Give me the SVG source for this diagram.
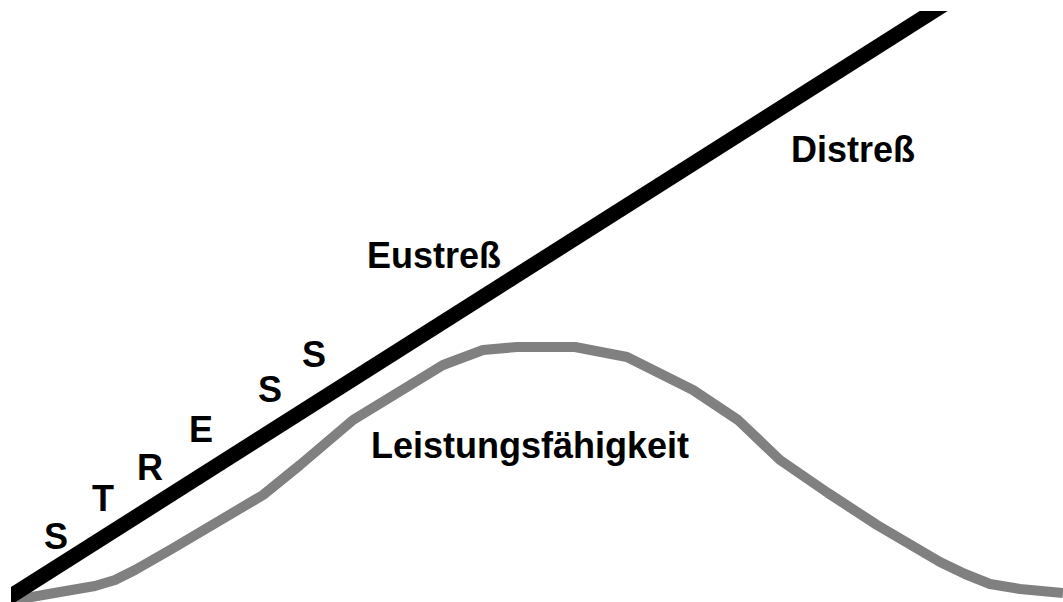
<svg xmlns="http://www.w3.org/2000/svg" width="1063" height="602" viewBox="0 0 1063 602">
<style>
.lbl{font-family:"Liberation Sans",Arial,sans-serif;font-weight:bold;font-size:36px;fill:#000}
</style>
<defs>
<clipPath id="clipStress"><rect x="11" y="11" width="1052" height="591"/></clipPath>
</defs>
<rect width="1063" height="602" fill="#fff"/>
<g id="connectors">
<polyline id="leistung-curve" fill="none" stroke="#808080" stroke-width="10" stroke-linejoin="round" points="15,600 60,592 95,586 115,580 135,570 170,550 263,495 300,465 353,420 443,365 483,350 517,347 575,347 627,357 693,390 738,420 780,460 828,493 877,525 940,562 965,574 990,584 1020,589 1063,593"/>
<line id="stress-line" x1="-10" y1="609.3" x2="955" y2="-2.5" stroke="#000" stroke-width="15" clip-path="url(#clipStress)"/>
</g>
<g id="stress-letters">
<text class="lbl" x="44" y="549">S</text>
<text class="lbl" x="92" y="511">T</text>
<text class="lbl" x="137" y="480">R</text>
<text class="lbl" x="189" y="442">E</text>
<text class="lbl" x="258" y="402">S</text>
<text class="lbl" x="302" y="367">S</text>
</g>
<g id="eustress"><text class="lbl" x="367" y="268">Eustreß</text></g>
<g id="distress"><text class="lbl" x="791" y="162">Distreß</text></g>
<g id="leistung"><text class="lbl" x="371" y="458">Leistungsfähigkeit</text></g>
</svg>
